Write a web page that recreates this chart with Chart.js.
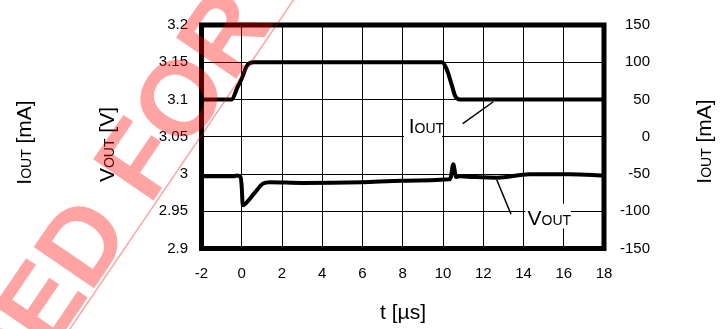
<!DOCTYPE html>
<html>
<head>
<meta charset="utf-8">
<script src="https://cdn.jsdelivr.net/npm/chart.js@4.4.1/dist/chart.umd.min.js"></script>
<style>
  html, body { margin: 0; padding: 0; background: #fff; }
  #wrap { width: 726px; height: 329px; }
</style>
</head>
<body>
<div id="wrap"><canvas id="chart" width="726" height="329"></canvas></div>
<script>
// axis ticks
const tTicks = [-2, 0, 2, 4, 6, 8, 10, 12, 14, 16, 18];
const vTicks = [2.9, 2.95, 3, 3.05, 3.1, 3.15, 3.2];
const vTickLabels = ["2.9", "2.95", "3", "3.05", "3.1", "3.15", "3.2"];
const iTicks = [-150, -100, -50, 0, 50, 100, 150];

// IOUT trace (mA, right axis)
const tIout = [-2, -0.5, -0.22, 0, 0.25, 0.57, 9.95, 10.18, 10.43, 10.6, 10.85, 18];
const iout  = [50, 50, 65.8, 78.2, 95, 100, 100, 90.8, 70, 55, 50, 50];

// VOUT trace (V, left axis)
const tVout = [-2, -0.35, -0.25, -0.05, 0, 0.05, 0.25, 0.65, 1.05, 1.4, 3, 6, 8, 10.3, 10.38, 10.51, 10.65, 10.85, 11.5, 12.7, 14.3, 16.3, 18];
const vout  = [2.997, 2.997, 2.998, 2.995, 2.982, 2.958, 2.962, 2.975, 2.987, 2.989, 2.988, 2.989, 2.991, 2.993, 2.995, 3.013, 2.996, 2.997, 2.996, 2.995, 2.9995, 2.9995, 2.998];

const FONT = "'Liberation Sans', Arial, sans-serif";

// draws text made of [string, size] pieces on one baseline
function richText(ctx, parts, x, y, angle, align) {
  ctx.save();
  ctx.translate(x, y);
  ctx.rotate(angle);
  let total = 0;
  parts.forEach(p => { ctx.font = p[1] + "px " + FONT; total += ctx.measureText(p[0]).width; });
  let cx = align === "left" ? 0 : -total / 2;
  ctx.textAlign = "left";
  ctx.textBaseline = "alphabetic";
  ctx.fillStyle = "#000";
  parts.forEach(p => {
    ctx.font = p[1] + "px " + FONT;
    ctx.fillText(p[0], cx, 0);
    cx += ctx.measureText(p[0]).width;
  });
  ctx.restore();
}

const labelsPlugin = {
  id: "labels",
  beforeDatasetsDraw(chart) {
    const ctx = chart.ctx;
    const x = chart.scales.x, yV = chart.scales.yV;
    ctx.save();
    ctx.fillStyle = "#fff";
    // white boxes behind the in-plot labels
    ctx.fillRect(x.getPixelForValue(8.06), yV.getPixelForValue(3.079), x.getPixelForValue(9.95) - x.getPixelForValue(8.06), yV.getPixelForValue(3.046) - yV.getPixelForValue(3.079));
    ctx.fillRect(x.getPixelForValue(14.1), yV.getPixelForValue(2.96), x.getPixelForValue(16.35) - x.getPixelForValue(14.1), yV.getPixelForValue(2.927) - yV.getPixelForValue(2.96));
    ctx.restore();
    richText(ctx, [["I", 21], ["OUT", 14]], x.getPixelForValue(8.3), yV.getPixelForValue(3.055), 0, "left");
    richText(ctx, [["V", 21], ["OUT", 14]], x.getPixelForValue(14.2), yV.getPixelForValue(2.932), 0, "left");
    // leader lines
    ctx.save();
    ctx.strokeStyle = "#000";
    ctx.lineWidth = 1.5;
    ctx.beginPath();
    ctx.moveTo(x.getPixelForValue(10.98), yV.getPixelForValue(3.0676));
    ctx.lineTo(x.getPixelForValue(12.5), yV.getPixelForValue(3.097));
    ctx.moveTo(x.getPixelForValue(12.67), yV.getPixelForValue(2.9923));
    ctx.lineTo(x.getPixelForValue(13.38), yV.getPixelForValue(2.946));
    ctx.stroke();
    ctx.restore();
  },
  afterDatasetsDraw(chart) {
    const ctx = chart.ctx, a = chart.chartArea;
    ctx.save();
    ctx.strokeStyle = "#000";
    ctx.lineWidth = 5;
    ctx.strokeRect(a.left, a.top, a.right - a.left, a.bottom - a.top);
    ctx.restore();
  },
  afterDraw(chart) {
    const ctx = chart.ctx;
    // axis titles
    richText(ctx, [["I", 21], ["OUT", 14], [" [mA]", 21]], 31, 142.5, -Math.PI / 2, "center");
    richText(ctx, [["V", 21], ["OUT", 14], [" [V]", 21]], 114, 144.5, -Math.PI / 2, "center");
    richText(ctx, [["I", 21], ["OUT", 14], [" [mA]", 21]], 711, 141.5, -Math.PI / 2, "center");
    richText(ctx, [["t [µs]", 21]], 403, 319, 0, "center");
    // watermark
    ctx.save();
    ctx.translate(90, 294);
    ctx.rotate(-55.8 * Math.PI / 180);
    ctx.fillStyle = "rgba(255,0,0,0.36)";
    ctx.strokeStyle = "rgba(255,0,0,0.36)";
    ctx.font = "bold 106px " + FONT;
    ctx.textBaseline = "alphabetic";
    ctx.textAlign = "left";
    ctx.fillText("D FOR NEW DESIGN", 0, 0);
    ctx.textAlign = "right";
    ctx.fillText("NOT RECOMMENDE", 0, 0);
    ctx.lineWidth = 1.5;
    ctx.beginPath();
    ctx.moveTo(-700, 3);
    ctx.lineTo(700, 3);
    ctx.stroke();
    ctx.restore();
  }
};

const tickFont = { family: FONT, size: 15 };

new Chart(document.getElementById("chart"), {
  type: "line",
  data: {
    datasets: [
      {
        label: "IOUT",
        yAxisID: "yI",
        data: tIout.map((t, i) => ({ x: t, y: iout[i] })),
        borderColor: "#000",
        borderWidth: 4,
        borderJoinStyle: "round",
        borderCapStyle: "round",
        pointRadius: 0,
        cubicInterpolationMode: "monotone"
      },
      {
        label: "VOUT",
        yAxisID: "yV",
        data: tVout.map((t, i) => ({ x: t, y: vout[i] })),
        borderColor: "#000",
        borderWidth: 4,
        borderJoinStyle: "round",
        borderCapStyle: "round",
        pointRadius: 0,
        cubicInterpolationMode: "monotone"
      }
    ]
  },
  options: {
    responsive: false,
    animation: false,
    devicePixelRatio: 1,
    layout: { padding: { top: 9.5, left: 0, right: 76, bottom: 0 } },
    plugins: { legend: { display: false }, tooltip: { enabled: false } },
    scales: {
      x: {
        type: "linear",
        min: -2,
        max: 18,
        afterBuildTicks: s => { s.ticks = tTicks.map(v => ({ value: v })); },
        afterFit: s => { s.height = 80.5; },
        grid: { color: "#000", lineWidth: 1, drawTicks: false },
        border: { display: false },
        ticks: { font: tickFont, color: "#000", padding: 16, maxRotation: 0, autoSkip: false, callback: v => String(v) }
      },
      yV: {
        type: "linear",
        position: "left",
        min: 2.9,
        max: 3.2,
        afterBuildTicks: s => { s.ticks = vTicks.map(v => ({ value: v })); },
        afterFit: s => { s.width = 201.5; },
        grid: { color: "#000", lineWidth: 1, drawTicks: false },
        border: { display: false },
        ticks: { font: tickFont, color: "#000", padding: 13.5, callback: (v, i) => vTickLabels[i] }
      },
      yI: {
        type: "linear",
        position: "right",
        min: -150,
        max: 150,
        afterBuildTicks: s => { s.ticks = iTicks.map(v => ({ value: v })); },
        afterFit: s => { s.width = 46; },
        grid: { display: false, drawTicks: false },
        border: { display: false },
        ticks: { font: tickFont, color: "#000", padding: 16, crossAlign: "far", callback: v => String(v) }
      }
    }
  },
  plugins: [labelsPlugin]
});
</script>
</body>
</html>
